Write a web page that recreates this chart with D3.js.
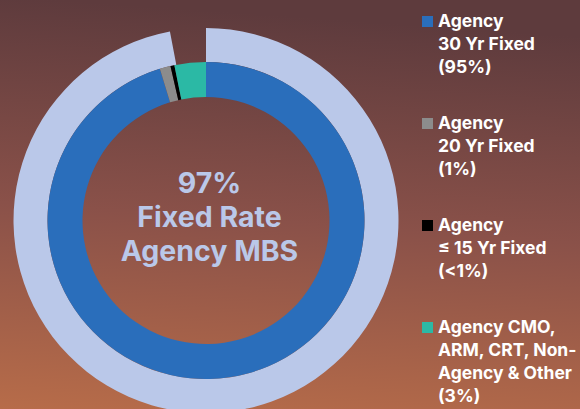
<!DOCTYPE html>
<html>
<head>
<meta charset="utf-8">
<script src="https://cdn.jsdelivr.net/npm/d3@7"></script>
<style>
  html, body { margin: 0; padding: 0; }
  body { width: 580px; height: 409px; overflow: hidden; }
  text { font-family: Inter, "Noto Sans", sans-serif; font-weight: 700; }
</style>
</head>
<body>
<svg id="chart"></svg>
<script>
// composition of the portfolio, inner ring (clockwise from 12 o'clock)
const segments = ["Agency 30 Yr Fixed", "Agency 20 Yr Fixed", "Agency ≤ 15 Yr Fixed", "Agency CMO, ARM, CRT, Non-Agency & Other"];
const segmentValues = [95.3, 1.1, 0.4, 3.2];
const segmentColors = ["#2a6ebb", "#8c8c8c", "#000000", "#2bb9a5"];

// outer ring: fixed rate agency share
const outerValue = 97;

const centerLines = ["97%", "Fixed Rate", "Agency MBS"];

const legendLines = [
    ["Agency", "30 Yr Fixed", "(95%)"],
    ["Agency", "20 Yr Fixed", "(1%)"],
    ["Agency", "≤ 15 Yr Fixed", "(<1%)"],
    ["Agency CMO,", "ARM, CRT, Non-", "Agency & Other", "(3%)"]
];

const width = 580, height = 409;
const cx = 206, cy = 220.5;

const svg = d3.select("#chart")
    .attr("width", width)
    .attr("height", height);

// background gradient
const defs = svg.append("defs");
const grad = defs.append("linearGradient")
    .attr("id", "bg")
    .attr("x1", "0.1").attr("y1", "0")
    .attr("x2", "0").attr("y2", "1");
grad.append("stop").attr("offset", "0%").attr("stop-color", "#5e3b3d");
grad.append("stop").attr("offset", "50%").attr("stop-color", "#8a5149");
grad.append("stop").attr("offset", "100%").attr("stop-color", "#b76c49");

svg.append("rect")
    .attr("width", width)
    .attr("height", height)
    .attr("fill", "url(#bg)");

const g = svg.append("g")
    .attr("transform", `translate(${cx},${cy})`);

// outer light ring
const outerScale = d3.scaleLinear().domain([0, 100]).range([0, 2 * Math.PI]);
const outerArc = d3.arc()
    .innerRadius(158.5)
    .outerRadius(192.5);
g.append("path")
    .attr("d", outerArc({ startAngle: 0, endAngle: outerScale(outerValue) }))
    .attr("fill", "#bac8e9");

// inner ring
const pie = d3.pie().sort(null).value(d => d);
const innerArc = d3.arc()
    .innerRadius(123.5)
    .outerRadius(158.5);
g.selectAll(".seg")
    .data(pie(segmentValues))
    .enter()
    .append("path")
    .attr("class", "seg")
    .attr("d", innerArc)
    .attr("fill", (d, i) => segmentColors[i]);

// center label
g.selectAll(".center")
    .data(centerLines)
    .enter()
    .append("text")
    .attr("class", "center")
    .attr("x", 3.5)
    .attr("y", (d, i) => -27.5 + i * 34)
    .attr("text-anchor", "middle")
    .attr("font-size", 28.5)
    .attr("fill", "#bac8e9")
    .text(d => d);

// legend
const legend = svg.append("g").attr("transform", "translate(422,0)");
legendLines.forEach((lines, k) => {
    const base = 27 + k * 102;
    legend.append("rect")
        .attr("x", 0)
        .attr("y", base - 11)
        .attr("width", 11)
        .attr("height", 11)
        .attr("fill", segmentColors[k]);
    lines.forEach((t, j) => {
        legend.append("text")
            .attr("x", 16)
            .attr("y", base + j * 23)
            .attr("font-size", 17.5)
            .attr("fill", "#ffffff")
            .text(t);
    });
});
</script>
</body>
</html>
